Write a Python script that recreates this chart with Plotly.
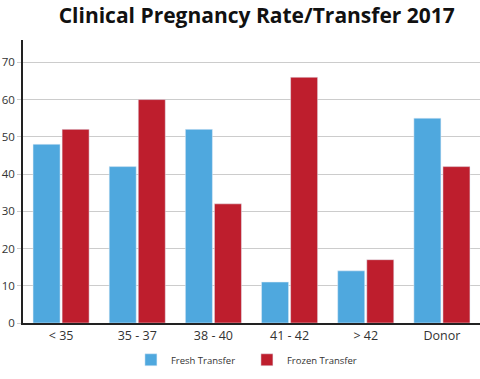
import plotly.graph_objects as go

categories = ["< 35", "35 - 37", "38 - 40", "41 - 42", "> 42", "Donor"]
fresh = [48, 42, 52, 11, 14, 55]
frozen = [52, 60, 32, 66, 17, 42]
y_ticks = [0, 10, 20, 30, 40, 50, 60, 70]

BLUE = "#4FA8DE"
RED = "#BE1E2D"

fig = go.Figure()
fig.add_bar(x=categories, y=fresh, name="Fresh Transfer", marker_color=BLUE)
fig.add_bar(x=categories, y=frozen, name="Frozen Transfer", marker_color=RED)

fig.update_layout(
    width=480, height=379,
    margin=dict(l=23, r=0, t=40, b=56, autoexpand=False),
    paper_bgcolor="white", plot_bgcolor="white",
    barmode="group", bargap=0.237, bargroupgap=0.07,
    title=dict(text="<b>Clinical Pregnancy Rate/Transfer 2017</b>",
               x=0.535, xanchor="center", y=0.96, yanchor="middle",
               font=dict(family="Open Sans", size=21, color="#111")),
    font=dict(family="Open Sans", color="#333"),
    showlegend=True,
    legend=dict(orientation="h", x=0.49, xanchor="center", y=-0.13, yanchor="middle",
                font=dict(size=9.5, color="#333"), entrywidth=71, itemwidth=30),
)
fig.update_yaxes(range=[0, 76], tickvals=y_ticks, showgrid=True, gridcolor="#CCCCCC", gridwidth=1,
                 showline=True, linecolor="#222", linewidth=1.5, ticks="outside", ticklen=4,
                 tickcolor="#CCCCCC", tickfont=dict(size=11.5, color="#333"), zeroline=False,
                 automargin=False)
fig.update_xaxes(showline=True, linecolor="#222", linewidth=1.5, ticks="",
                 tickfont=dict(size=12.5, color="#333"), automargin=False)

fig.write_html("out.html", config={"displayModeBar": False},
               post_script="document.body.style.margin='0';")
